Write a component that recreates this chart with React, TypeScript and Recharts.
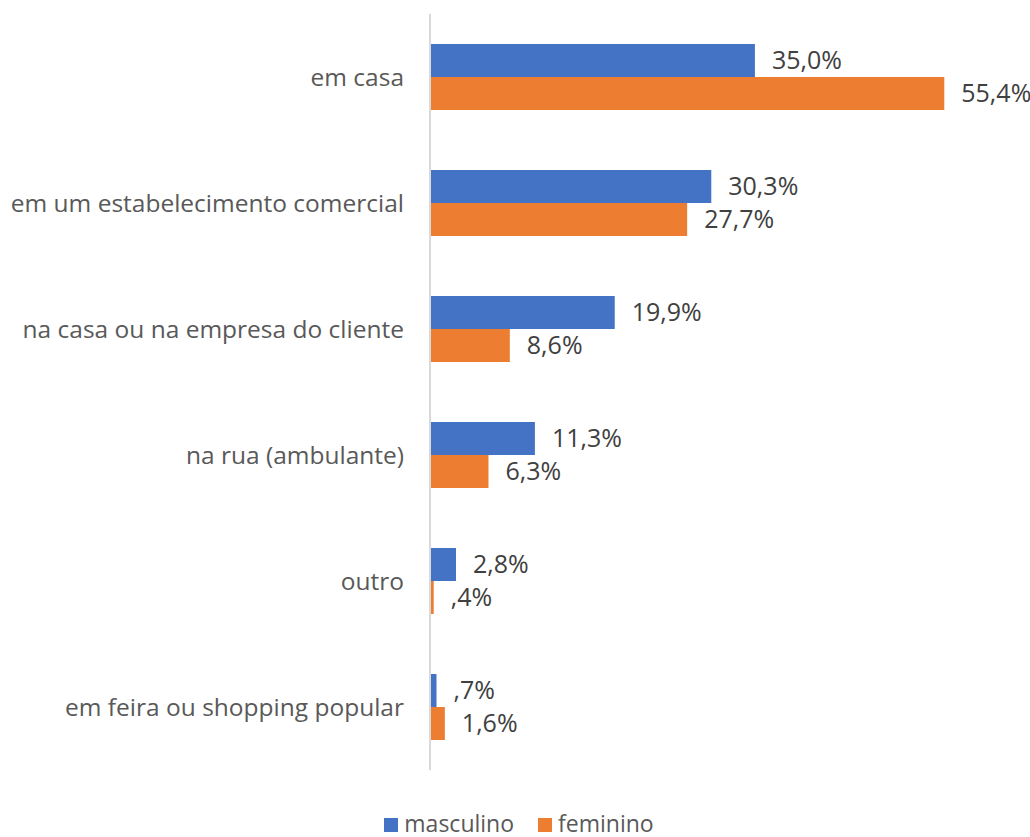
import { BarChart, Bar, XAxis, YAxis, Legend, LabelList } from "recharts";

const categories = [
  "em casa",
  "em um estabelecimento comercial",
  "na casa ou na empresa do cliente",
  "na rua (ambulante)",
  "outro",
  "em feira ou shopping popular",
];
const masculino = [35.0, 30.3, 19.9, 11.3, 2.8, 0.7];
const feminino = [55.4, 27.7, 8.6, 6.3, 0.4, 1.6];
const series = [
  { key: "masculino", color: "#4472C4" },
  { key: "feminino", color: "#ED7D31" },
];

const data = categories.map((name, i) => ({
  name,
  masculino: masculino[i],
  feminino: feminino[i],
}));

const FONT = "'Open Sans', sans-serif";

// 0.7 -> ",7%"  35 -> "35,0%"
const fmt = (v: number) => {
  let s = v.toFixed(1).replace(".", ",");
  if (s.startsWith("0")) s = s.slice(1);
  return s + "%";
};

const LegendBox = () => (
  <div
    style={{
      display: "flex",
      justifyContent: "center",
      gap: 24,
      fontSize: 23,
      color: "#595959",
      lineHeight: "28px",
      height: 28,
      paddingLeft: 51,
    }}
  >
    {series.map((s) => (
      <div key={s.key} style={{ display: "flex", alignItems: "center" }}>
        <span style={{ width: 14, height: 14, background: s.color, marginRight: 6, marginTop: 3 }} />
        {s.key}
      </div>
    ))}
  </div>
);

export default function App() {
  return (
    <div style={{ position: "absolute", left: 0, top: 0, background: "#fff", fontFamily: FONT }}>
      <BarChart
        width={1030}
        height={837}
        data={data}
        layout="vertical"
        margin={{ top: 14, right: 43, bottom: 39, left: 0 }}
        barGap={0}
        barSize={33}
      >
        <XAxis type="number" hide domain={[0, 60]} />
        <YAxis
          type="category"
          dataKey="name"
          width={430}
          tickLine={false}
          tickSize={0}
          tickMargin={26}
          axisLine={{ stroke: "#d9d9d9", strokeWidth: 2 }}
          tick={{ fill: "#595959", fontSize: 24.5, fontFamily: FONT }}
        />
        <Legend verticalAlign="bottom" content={<LegendBox />} wrapperStyle={{ bottom: 0 }} />
        {series.map((s) => (
          <Bar key={s.key} dataKey={s.key} fill={s.color} isAnimationActive={false}>
            <LabelList
              dataKey={s.key}
              position="right"
              offset={17}
              formatter={fmt}
              style={{ fill: "#404040", fontSize: 25, fontFamily: FONT }}
            />
          </Bar>
        ))}
      </BarChart>
    </div>
  );
}
